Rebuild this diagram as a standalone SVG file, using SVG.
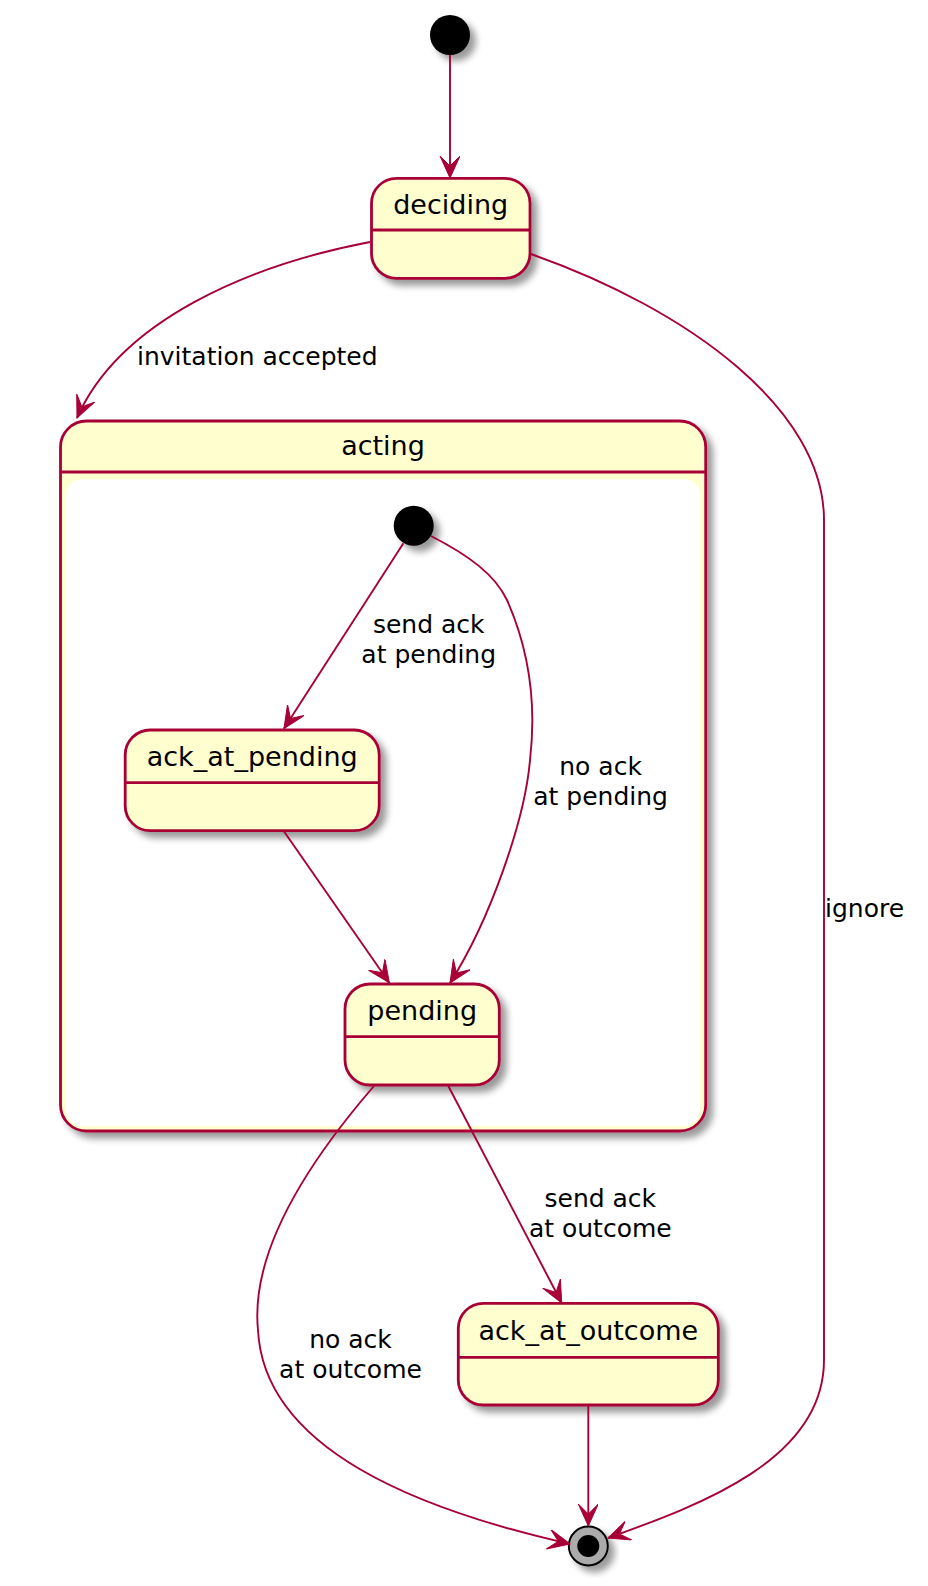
<svg xmlns="http://www.w3.org/2000/svg" width="928" height="1586" viewBox="0 0 928 1586">
<style>
.st{fill:#FEFECE;stroke:#A80036;stroke-width:2.8}
.sep{stroke:#A80036;stroke-width:2.8}
.nm{font-family:"DejaVu Sans","Liberation Sans",sans-serif;font-size:27px;fill:#000;text-anchor:middle}
.lb{font-family:"DejaVu Sans","Liberation Sans",sans-serif;font-size:25px;fill:#000;text-anchor:middle}
.ed{fill:none;stroke:#A80036;stroke-width:1.9;marker-end:url(#ah)}
</style>
<defs>
<filter id="sh" x="-20%" y="-20%" width="150%" height="150%">
<feGaussianBlur in="SourceAlpha" stdDeviation="3.5"/>
<feOffset dx="6" dy="6"/>
<feComponentTransfer><feFuncA type="linear" slope="0.4"/></feComponentTransfer>
<feMerge><feMergeNode/><feMergeNode in="SourceGraphic"/></feMerge>
</filter>
<marker id="ah" markerUnits="userSpaceOnUse" markerWidth="24" markerHeight="22" viewBox="0 0 24 22" refX="22" refY="10" orient="auto">
<path d="M22,10 L0,0 L10,10 L0,20 Z" fill="#A80036" stroke="#A80036" stroke-width="1"/>
</marker>
</defs>
<rect width="928" height="1586" fill="#FFFFFF"/>

<g id="start">
<circle cx="450" cy="35" r="20" fill="#000" filter="url(#sh)"/>
</g>

<g id="deciding">
<rect class="st" x="371.5" y="178.3" width="158.5" height="100" rx="25" filter="url(#sh)"/>
<line class="sep" x1="371.5" y1="230" x2="530" y2="230"/>
<text class="nm" x="450.7" y="214">deciding</text>
</g>

<g id="acting">
<rect class="st" x="60.5" y="421" width="645.2" height="710" rx="26" filter="url(#sh)"/>
<line class="sep" x1="60.5" y1="472" x2="705.7" y2="472"/>
<rect x="66" y="479.3" width="634" height="646.7" rx="16" fill="#FFFFFF"/>
<text class="nm" x="383" y="455">acting</text>
</g>

<g id="acting_start">
<circle cx="413.7" cy="525.7" r="20" fill="#000" filter="url(#sh)"/>
</g>

<g id="ack_at_pending">
<rect class="st" x="125.2" y="730" width="254" height="100.7" rx="25" filter="url(#sh)"/>
<line class="sep" x1="125.2" y1="782.7" x2="379.2" y2="782.7"/>
<text class="nm" x="252.2" y="766">ack_at_pending</text>
</g>

<g id="pending">
<rect class="st" x="345" y="984" width="154.3" height="101" rx="25" filter="url(#sh)"/>
<line class="sep" x1="345" y1="1036.7" x2="499.3" y2="1036.7"/>
<text class="nm" x="422.2" y="1020">pending</text>
</g>

<g id="ack_at_outcome">
<rect class="st" x="458.3" y="1303.3" width="260" height="101.7" rx="25" filter="url(#sh)"/>
<line class="sep" x1="458.3" y1="1357.3" x2="718.3" y2="1357.3"/>
<text class="nm" x="588.3" y="1339.5">ack_at_outcome</text>
</g>

<g id="end">
<circle cx="588.3" cy="1546" r="19.5" fill="#ABABAB" stroke="#000" stroke-width="1.9" filter="url(#sh)"/>
<circle cx="588.3" cy="1546" r="11" fill="#000"/>
</g>

<g id="connectors">
<path class="ed" d="M450,55 L450,178"/>
<path class="ed" d="M370,242 C250,265 120,320 77,418"/>
<text class="lb" x="137" y="365" style="text-anchor:start">invitation accepted</text>
<path class="ed" d="M531,254 C690,310 824,410 824,520 L824,1360 C824,1460 700,1505 608,1538"/>
<text class="lb" x="825" y="917" style="text-anchor:start">ignore</text>
<path class="ed" d="M403.4,543.3 L284,728.5"/>
<text class="lb" x="428.7" y="632.7">send ack</text>
<text class="lb" x="428.7" y="662.7">at pending</text>
<path class="ed" d="M431,536 C470,556 495,575 507,600 C527,645 537,700 530,760 C525,820 490,920 450,983"/>
<text class="lb" x="600.6" y="775">no ack</text>
<text class="lb" x="600.6" y="805">at pending</text>
<path class="ed" d="M283.7,831 L389.3,982.7"/>
<path class="ed" d="M448.3,1086 L561.7,1303"/>
<text class="lb" x="600.3" y="1206.7">send ack</text>
<text class="lb" x="600.3" y="1237">at outcome</text>
<path class="ed" d="M374,1086 C310,1160 250,1250 258,1330 C264,1450 420,1510 570,1544"/>
<text class="lb" x="350.5" y="1348">no ack</text>
<text class="lb" x="350.5" y="1378">at outcome</text>
<path class="ed" d="M588.3,1405 L588.3,1526"/>
</g>
</svg>
